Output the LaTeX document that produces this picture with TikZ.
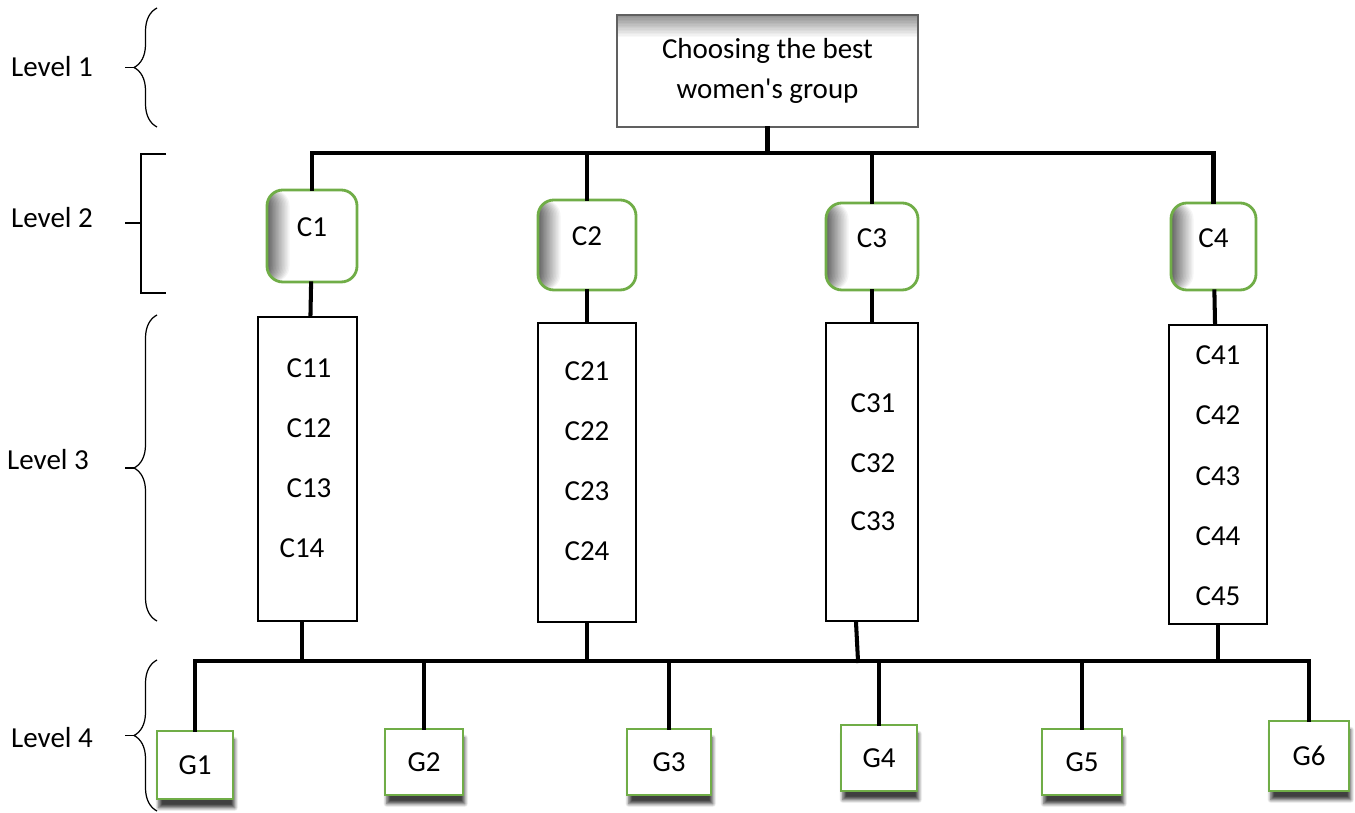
\documentclass[tikz,border=0pt]{standalone}
\usepackage{fontspec}
\setmainfont{Carlito}
\usepackage{tikz}
\usetikzlibrary{positioning, calc, shadows, shadows.blur, decorations.pathreplacing}

\definecolor{officegreen}{RGB}{112,173,71}

\begin{document}
\begin{tikzpicture}[
    x=0.02cm, y=-0.02cm,
    every node/.style={font=\fontsize{16.5}{22.7}\selectfont, inner sep=0pt},
    goal/.style={rectangle, draw=gray!75!black, fill=white, line width=0.8pt,
                 minimum width=6.02cm, minimum height=2.24cm, align=center,
                 path picture={
                   \foreach \k [evaluate=\k as \c using 42-2.8*\k] in {14,13,...,0}
                     \fill[black!\c] (path picture bounding box.north west) rectangle
                       ([yshift=-(\k+1)*0.03cm]path picture bounding box.north east);}},
    crit/.style={rectangle, rounded corners=9pt, draw=officegreen, fill=white,
                 line width=1.6pt, text depth=10pt,
                 path picture={
                   \foreach \k [evaluate=\k as \c using 60-4*\k] in {14,13,...,0}
                     \fill[black!\c] (path picture bounding box.south west) rectangle
                       ([xshift=(\k+1)*0.03cm]path picture bounding box.north west);}},
    subbox/.style={rectangle, draw=black, line width=1.5pt, fill=white},
    alt/.style={rectangle, draw=officegreen, fill=white, line width=1.6pt,
                blur shadow={shadow xshift=1pt, shadow yshift=-5pt,
                             shadow blur steps=6, shadow opacity=75}},
    link/.style={line width=2.3pt, line cap=rect},
    lvl/.style={line width=0.7pt},
]
\useasboundingbox (0,0) rectangle (1355,813);

% level 1
\node[goal] (goal) at (767.5,71) {Choosing the best\\women\textquotesingle s group};

% level 2
\node[crit, minimum width=1.8cm, minimum height=1.84cm] (c1) at (312,236) {C1};
\node[crit, minimum width=1.96cm, minimum height=1.8cm] (c2) at (587,245) {C2};
\node[crit, minimum width=1.84cm, minimum height=1.74cm] (c3) at (872,246.5) {C3};
\node[crit, minimum width=1.7cm, minimum height=1.74cm] (c4) at (1213.5,246.5) {C4};

% level 3
\node[subbox, minimum width=1.98cm, minimum height=6.08cm] (s1) at (307.5,469) {};
\node[subbox, minimum width=1.96cm, minimum height=5.98cm] (s2) at (587,472.5) {};
\node[subbox, minimum width=1.84cm, minimum height=5.96cm] (s3) at (872,472) {};
\node[subbox, minimum width=1.96cm, minimum height=5.98cm] (s4) at (1218,474.5) {};

\foreach \i/\x/\y in {1/309/368, 2/309/428, 3/309/488, 4/302/548}
    \node (c1\i) at (\x,\y) {C1\i};
\foreach \i/\y in {1/371, 2/431, 3/491, 4/551}
    \node (c2\i) at (587,\y) {C2\i};
\foreach \i/\y in {1/403, 2/463, 3/521}
    \node (c3\i) at (873,\y) {C3\i};
\foreach \i/\y in {1/355, 2/415, 3/476, 4/536, 5/596}
    \node (c4\i) at (1218,\y) {C4\i};

% level 4
\node[alt, minimum width=1.52cm, minimum height=1.36cm] (g1) at (195,765) {G1};
\node[alt, minimum width=1.56cm, minimum height=1.32cm] (g2) at (424,762) {G2};
\node[alt, minimum width=1.68cm, minimum height=1.32cm] (g3) at (669,762) {G3};
\node[alt, minimum width=1.52cm, minimum height=1.32cm] (g4) at (879,758) {G4};
\node[alt, minimum width=1.6cm, minimum height=1.32cm] (g5) at (1082,762) {G5};
\node[alt, minimum width=1.6cm, minimum height=1.4cm] (g6) at (1309,756) {G6};

% connectors
\coordinate (bus1) at (0,153);
\coordinate (bus2) at (0,661);
\draw[link] (goal.south) -- (goal.south |- bus1);
\draw[link] (c1.north) |- (c4.north |- bus1) -- (c4.north);
\draw[link] (c2.north) -- (c2.north |- bus1);
\draw[link] (c3.north) -- (c3.north |- bus1);
\draw[link] (c1) -- (s1);
\draw[link] (c2) -- (s2);
\draw[link] (c3) -- (s3);
\draw[link] (c4) -- (s4);
\draw[link] ([xshift=-0.11cm]s1.south) -- ([xshift=-0.11cm]s1.south |- bus2);
\draw[link] (s2.south) -- (s2.south |- bus2);
\draw[link] ([xshift=-0.32cm]s3.south) -- ([xshift=-0.28cm]s3.south |- bus2);
\draw[link] (s4.south) -- (s4.south |- bus2);
\draw[link] (g1.north) |- (g6.north |- bus2) -- (g6.north);
\draw[link] (g2.north) -- (g2.north |- bus2);
\draw[link] (g3.north) -- (g3.north |- bus2);
\draw[link] (g4.north) -- (g4.north |- bus2);
\draw[link] (g5.north) -- (g5.north |- bus2);

% level labels
\node (lv1) at (52,67) {Level 1};
\node (lv2) at (52,218) {Level 2};
\node (lv3) at (48,460) {Level 3};
\node (lv4) at (52,738) {Level 4};

\draw[lvl, decorate, decoration={brace, amplitude=0.46cm}] (157,127) -- (157,8);
\draw[lvl] (125,67.5) -- (134,67.5);
\draw[lvl] (166,154) -- (141,154) -- (141,293) -- (166,293);
\draw[lvl] (125,223) -- (141,223);
\draw[lvl, decorate, decoration={brace, amplitude=0.46cm}] (157,621) -- (157,315);
\draw[lvl] (125,468) -- (134,468);
\draw[lvl, decorate, decoration={brace, amplitude=0.46cm}] (157,811) -- (157,660);
\draw[lvl] (125,735.5) -- (134,735.5);
\end{tikzpicture}
\end{document}
